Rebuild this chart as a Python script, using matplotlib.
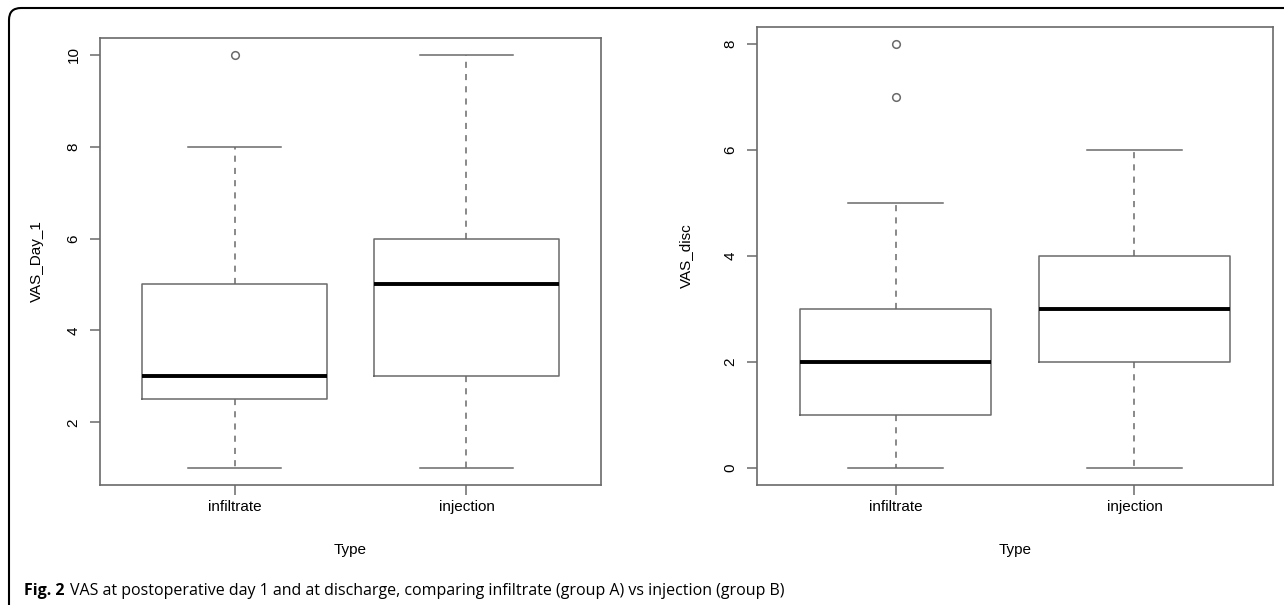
import matplotlib.pyplot as plt
from matplotlib.patches import FancyBboxPatch
from matplotlib.transforms import IdentityTransform

# Data
groups = ["infiltrate", "injection"]

day1_whislo = [1, 1]
day1_q1 = [2.5, 3]
day1_med = [3, 5]
day1_q3 = [5, 6]
day1_whishi = [8, 10]
day1_fliers = [[10], []]
day1_ticks = [2, 4, 6, 8, 10]

disc_whislo = [0, 0]
disc_q1 = [1, 2]
disc_med = [2, 3]
disc_q3 = [3, 4]
disc_whishi = [5, 6]
disc_fliers = [[7, 8], []]
disc_ticks = [0, 2, 4, 6, 8]

gray = "#6a6a6a"
plt.rcParams["font.family"] = ["Liberation Sans", "DejaVu Sans"]

fig = plt.figure(figsize=(12.84, 6.05), dpi=100)


def make_stats(lo, q1, med, q3, hi, fl):
    return [dict(whislo=lo[i], q1=q1[i], med=med[i], q3=q3[i], whishi=hi[i],
                 fliers=fl[i], label=groups[i]) for i in range(len(groups))]


def draw_panel(rect, stats, ticks, ylabel, ylab_x):
    ax = fig.add_axes(rect)
    ax.bxp(stats, positions=[1, 2], widths=0.8, capwidths=0.4,
           boxprops=dict(color=gray, linewidth=1.1),
           medianprops=dict(color="black", linewidth=2.8),
           whiskerprops=dict(color=gray, linewidth=1.1, linestyle=(0, (4, 4))),
           capprops=dict(color=gray, linewidth=1.1),
           flierprops=dict(marker="o", markerfacecolor="none", markeredgecolor=gray,
                           markersize=5.5, markeredgewidth=1.1))
    # R style: data range padded by 4%
    vals = [s["whislo"] for s in stats] + [s["whishi"] for s in stats]
    vals += [f for s in stats for f in s["fliers"]]
    lo, hi = min(vals), max(vals)
    ext = (hi - lo) * 0.04
    ax.set_ylim(lo - ext, hi + ext)
    ax.set_xlim(0.42, 2.58)
    ax.set_xticks([1, 2])
    ax.set_xticklabels(groups, fontsize=11)
    ax.set_yticks(ticks)
    ax.set_yticklabels([str(t) for t in ticks], fontsize=11, rotation=90, va="center")
    for s in ax.spines.values():
        s.set_color(gray)
        s.set_linewidth(1.2)
    ax.tick_params(axis="both", color=gray, length=7, width=1.1)
    ax.tick_params(axis="x", pad=4)
    ax.tick_params(axis="y", pad=7)
    ax.set_xlabel("Type", fontsize=11, va="center")
    ax.xaxis.set_label_coords(0.5, -65 / (rect[3] * 605))
    ax.set_ylabel(ylabel, fontsize=11, va="center")
    ax.yaxis.set_label_coords(ylab_x, 0.5)
    return ax


draw_panel([100 / 1284, 1 - 485 / 605, 501 / 1284, 447 / 605],
           make_stats(day1_whislo, day1_q1, day1_med, day1_q3, day1_whishi, day1_fliers),
           day1_ticks, "VAS_Day_1", -63 / 501)
draw_panel([757 / 1284, 1 - 485 / 605, 516 / 1284, 458 / 605],
           make_stats(disc_whislo, disc_q1, disc_med, disc_q3, disc_whishi, disc_fliers),
           disc_ticks, "VAS_disc", -71 / 516)

# outer rounded frame
frame = FancyBboxPatch((9, -30), 1310, 597 + 30, boxstyle="round,pad=0,rounding_size=12",
                       transform=IdentityTransform(), facecolor="none",
                       edgecolor="black", linewidth=1.5, clip_on=False)
fig.add_artist(frame)

# caption
cap_y = 1 - 591 / 605
t1 = fig.text(24 / 1284, cap_y, "Fig. 2", fontsize=11.5, fontweight="bold",
              family=["Open Sans", "DejaVu Sans"], va="center")
fig.canvas.draw()
bb = t1.get_window_extent()
fig.text((bb.x1 + 5) / 1284, cap_y,
         "VAS at postoperative day 1 and at discharge, comparing infiltrate (group A) vs injection (group B)",
         fontsize=11.5, family=["Open Sans", "DejaVu Sans"], va="center")

fig.savefig("out.png", dpi=100)
